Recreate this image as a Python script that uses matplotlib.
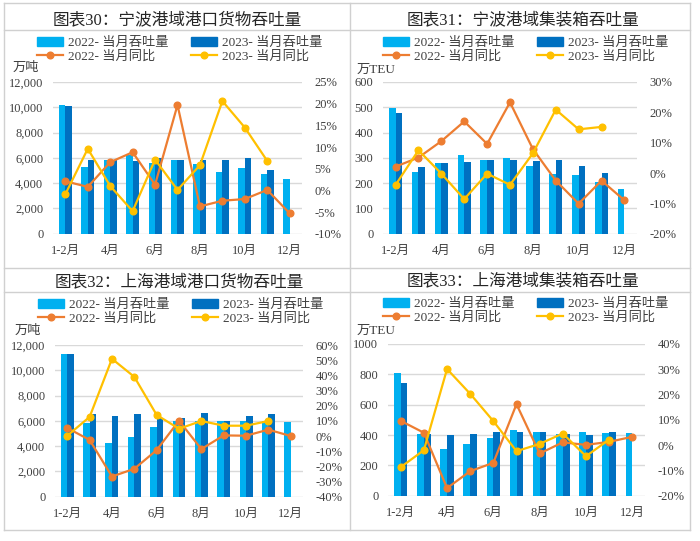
import matplotlib
matplotlib.use('Agg')
import matplotlib.pyplot as plt
import numpy as np
from matplotlib.lines import Line2D
from matplotlib.patches import Patch

plt.rcParams['font.family'] = ['Liberation Serif', 'Noto Sans CJK SC']
plt.rcParams['axes.unicode_minus'] = False

months = ['1-2月', '3月', '4月', '5月', '6月', '7月', '8月', '9月', '10月', '11月', '12月']
tick_labels = ['1-2月', '', '4月', '', '6月', '', '8月', '', '10月', '', '12月']

# 图表30 宁波港域港口货物吞吐量 (万吨)
nb_cargo_22 = [10200, 5300, 5800, 6200, 5600, 5800, 5500, 4900, 5200, 4750, 4330]
nb_cargo_23 = [10100, 5800, 5800, 5750, 6000, 5800, 5800, 5860, 6000, 5070, None]
nb_cargo_yoy22 = [2.1, 0.8, 6.5, 8.8, 1.3, 19.7, -3.7, -2.4, -2.0, 0.1, -5.3]
nb_cargo_yoy23 = [-0.9, 9.6, 1.0, -4.8, 7.1, 0.1, 5.8, 20.6, 14.5, 6.8, None]

# 图表31 宁波港域集装箱吞吐量 (万TEU)
nb_teu_22 = [497, 246, 278, 313, 291, 301, 269, 238, 231, 206, 178]
nb_teu_23 = [476, 264, 280, 285, 291, 291, 288, 291, 267, 240, None]
nb_teu_yoy22 = [2.1, 5.1, 10.5, 17.0, 9.6, 23.3, 7.9, -2.5, -10.1, -2.5, -9.0]
nb_teu_yoy23 = [-3.9, 7.5, -0.2, -8.6, -0.2, -3.9, 6.5, 20.9, 14.4, 15.2, None]

# 图表32 上海港域港口货物吞吐量 (万吨)
sh_cargo_22 = [11300, 5820, 4250, 4700, 5520, 6000, 6000, 6000, 6000, 6000, 5920]
sh_cargo_23 = [11250, 6520, 6350, 6520, 6220, 6250, 6620, 6000, 6350, 6520, None]
sh_cargo_yoy22 = [5.3, -2.6, -26.7, -21.6, -9.3, 10.1, -8.6, 0.4, 0.2, 4.2, 0.0]
sh_cargo_yoy23 = [0.2, 12.6, 50.9, 39.0, 13.9, 4.8, 9.9, 6.8, 6.8, 9.9, None]

# 图表33 上海港域集装箱吞吐量 (万TEU)
sh_teu_22 = [811, 409, 305, 341, 378, 431, 418, 404, 418, 415, 413]
sh_teu_23 = [745, 404, 398, 409, 418, 420, 420, 404, 398, 420, None]
sh_teu_yoy22 = [9.6, 4.9, -17.0, -10.3, -7.0, 16.2, -3.3, 1.1, 0.1, 1.3, 3.3]
sh_teu_yoy23 = [-8.7, -2.0, 30.1, 20.3, 9.5, -2.4, 0.5, 4.6, -4.4, 2.2, None]

C22_BAR = '#00B0F0'
C23_BAR = '#0070C0'
C22_LINE = '#ED7D31'
C23_LINE = '#FFC000'
TXT = '#404040'
GRID = '#D9D9D9'

W, H = 700, 541
fig = plt.figure(figsize=(7, 5.41), dpi=100)


def fx(px):
    return px / W


def fy(py):
    return 1 - py / H


def panel(rect, title, title_xy, unit, unit_xy, legend_xy,
          b22, b23, y22, y23, ylim, ystep, rlim, rstep, comma):
    ax = fig.add_axes(rect)
    x = np.arange(len(months))
    w = 0.29
    v22 = np.array([np.nan if v is None else v for v in b22], dtype=float)
    v23 = np.array([np.nan if v is None else v for v in b23], dtype=float)
    ax.bar(x - w / 2, v22, width=w, color=C22_BAR, zorder=2)
    ax.bar(x + w / 2, v23, width=w, color=C23_BAR, zorder=2)
    ax.set_xlim(-0.55, len(months) - 0.45)
    ax.set_ylim(*ylim)
    ax.set_yticks(np.arange(ylim[0], ylim[1] + 1, ystep))
    if comma:
        ax.set_yticklabels([f'{int(v):,}' for v in ax.get_yticks()])
    else:
        ax.set_yticklabels([f'{int(v)}' for v in ax.get_yticks()])
    ax.grid(axis='y', color=GRID, lw=1, zorder=0)
    ax.set_axisbelow(True)
    ax.set_xticks(x)
    ax.set_xticklabels(tick_labels)
    ax.tick_params(length=0, labelsize=9, colors=TXT)
    ax.tick_params(axis='x', pad=8)
    ax.tick_params(axis='y', pad=7)
    for s in ax.spines.values():
        s.set_visible(False)

    ax2 = ax.twinx()
    r22 = np.array([np.nan if v is None else v for v in y22], dtype=float)
    r23 = np.array([np.nan if v is None else v for v in y23], dtype=float)
    ax2.plot(x, r22, color=C22_LINE, lw=1.6, marker='o', ms=4.8, zorder=3)
    ax2.plot(x, r23, color=C23_LINE, lw=1.6, marker='o', ms=4.8, zorder=4)
    ax2.set_ylim(*rlim)
    ax2.set_yticks(np.arange(rlim[0], rlim[1] + 1, rstep))
    ax2.set_yticklabels([f'{int(v)}%' for v in ax2.get_yticks()])
    ax2.tick_params(length=0, labelsize=9, colors=TXT, pad=9)
    for s in ax2.spines.values():
        s.set_visible(False)

    fig.text(fx(title_xy[0]), fy(title_xy[1]), title, ha='center', va='center',
             fontsize=12, color='#262626')
    fig.text(fx(unit_xy[0]), fy(unit_xy[1]), unit, ha='left', va='center',
             fontsize=9.5, color=TXT)

    handles = [Patch(color=C22_BAR),
               Line2D([], [], color=C22_LINE, lw=1.6, marker='o', ms=4.8),
               Patch(color=C23_BAR),
               Line2D([], [], color=C23_LINE, lw=1.6, marker='o', ms=4.8)]
    labels = ['2022- 当月吞吐量', '2022- 当月同比', '2023- 当月吞吐量', '2023- 当月同比']
    leg = fig.legend(handles, labels, ncol=2, loc='center left',
                     bbox_to_anchor=(fx(legend_xy[0]), fy(legend_xy[1])),
                     frameon=False, fontsize=9.5, handlelength=2.0,
                     handleheight=0.7, handletextpad=0.35, columnspacing=1.7,
                     labelspacing=0.1, borderpad=0, borderaxespad=0)
    for t in leg.get_texts():
        t.set_color(TXT)
    return ax


panel([fx(53), fy(233.7), fx(249), 151.7 / H], '图表30：宁波港域港口货物吞吐量', (177, 20),
      '万吨', (13, 68), (37, 50), nb_cargo_22, nb_cargo_23, nb_cargo_yoy22, nb_cargo_yoy23,
      (0, 12000), 2000, (-10, 25), 5, True)
panel([fx(383), fy(233.7), fx(254), 151.7 / H], '图表31：宁波港域集装箱吞吐量', (523, 20),
      '万TEU', (357, 70), (383, 50), nb_teu_22, nb_teu_23, nb_teu_yoy22, nb_teu_yoy23,
      (0, 600), 100, (-20, 30), 10, False)
panel([fx(55), fy(496.7), fx(248), 151.7 / H], '图表32：上海港域港口货物吞吐量', (179, 282),
      '万吨', (15, 331), (38, 312), sh_cargo_22, sh_cargo_23, sh_cargo_yoy22, sh_cargo_yoy23,
      (0, 12000), 2000, (-40, 60), 10, True)
panel([fx(388), fy(495.7), fx(257), 151.7 / H], '图表33：上海港域集装箱吞吐量', (523, 281),
      '万TEU', (357, 331), (383, 311), sh_teu_22, sh_teu_23, sh_teu_yoy22, sh_teu_yoy23,
      (0, 1000), 200, (-20, 40), 10, False)

# table frame lines
line_kw = dict(color='#D0D0D0', lw=1, transform=fig.transFigure)
for yy in [3, 30, 268, 292, 530]:
    fig.add_artist(Line2D([fx(4), fx(690)], [fy(yy), fy(yy)], **line_kw))
for xx in [4, 350, 690]:
    fig.add_artist(Line2D([fx(xx), fx(xx)], [fy(3), fy(530)], **line_kw))

fig.savefig('out.png', dpi=100)
